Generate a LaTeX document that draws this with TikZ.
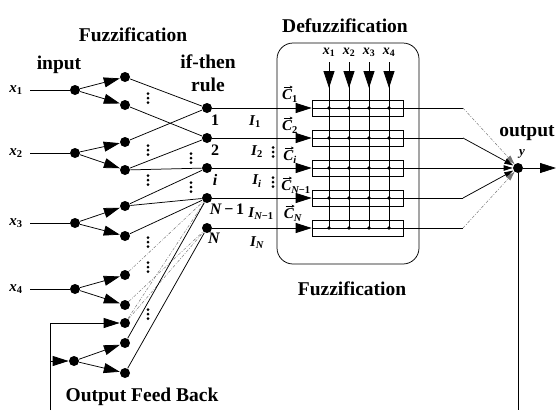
\documentclass[tikz,border=0pt]{standalone}
\usepackage{fontspec}
\setmainfont{Liberation Serif}
\usetikzlibrary{arrows.meta}

\begin{document}
\begin{tikzpicture}[x=1pt,y=-1pt,
  line width=0.75pt,
  neuron/.style={circle,fill=black,inner sep=0pt,minimum size=10pt},
  big/.style={-{Triangle[length=16pt,width=10pt]}},
  bigdown/.style={-{Triangle[length=17pt,width=11pt]}},
  small/.style={-{Triangle[length=9pt,width=5.5pt]}},
  vecarrow/.style={-{Stealth[length=3pt,width=3pt]},line width=0.6pt},
  ghost/.style={line width=0.45pt,black!55,dash pattern=on 3pt off 1.5pt on 0.8pt off 1.5pt},
  title/.style={font=\bfseries\fontsize{19.5}{21}\selectfont,inner sep=0pt},
  lbl/.style={font=\bfseries\itshape\fontsize{15}{16}\selectfont,inner sep=0pt},
  num/.style={font=\bfseries\fontsize{16}{17}\selectfont,inner sep=0pt},
  cell/.style={draw,line width=0.6pt,minimum width=91pt,minimum height=16pt,inner sep=0pt},
  vdts/.pic={\foreach \d in {-4.5,0,4.5} \fill (0,\d) circle (1.5pt);}
]
\useasboundingbox (0,0) rectangle (556,410);

% titles
\node[title] (tfuz) at (133,35) {Fuzzification};
\node[title] (tin) at (59,65) {input};
\node[title] (tif) at (208,62) {if-then};
\node[title] (trule) at (208,85) {rule};
\node[title] (tdef) at (345,26) {Defuzzification};
\node[title] (tfuz2) at (352,289) {Fuzzification};
\node[title] (tout) at (527,133) {output};
\node[title] (tfb) at (142,397) {Output Feed Back};

% input layer
\foreach \k/\yy in {1/90,2/153,3/223,4/289}{
  \node[lbl] (lx\k) at (16,\yy) {x\textsubscript{\upshape\k}};
  \coordinate (s\k) at (30,\yy);
  \node[neuron] (in\k) at (75,\yy) {};
  \draw (s\k) -- (in\k);
}
\node[neuron] (fin) at (74,361) {};

% membership layer
\node[neuron] (m1a) at (125,77) {};
\node[neuron] (m1b) at (125,105) {};
\node[neuron] (m2a) at (125,142) {};
\node[neuron] (m2b) at (125,170) {};
\node[neuron] (m3a) at (125,206) {};
\node[neuron] (m3b) at (125,236) {};
\node[neuron] (m4a) at (125,275) {};
\node[neuron] (m4b) at (125,305) {};
\node[neuron] (fa) at (125,323) {};
\node[neuron] (fb) at (125,343) {};
\node[neuron] (fc) at (125,373) {};

\draw[big] (in1) -- (m1a);
\draw[big] (in1) -- (m1b);
\draw[big] (in2) -- (m2a);
\draw[big] (in2) -- (m2b);
\draw[big] (in3) -- (m3a);
\draw[big] (in3) -- (m3b);
\draw[big] (in4) -- (m4a);
\draw[big] (in4) -- (m4b);
\draw[big] (fin) -- (fb);
\draw[big] (fin) -- (fc);

% rule layer
\node[neuron] (r1) at (207,108) {};
\node[neuron] (r2) at (207,138) {};
\node[neuron] (ri) at (207,168) {};
\node[neuron] (rn1) at (207,198) {};
\node[neuron] (rn) at (207,228) {};
\node[num] (l1) at (215,120) {1};
\node[num] (l2) at (215,150) {2};
\node[num,font=\bfseries\itshape\fontsize{16}{17}\selectfont] (li) at (215,180) {i};
\node[num] (ln1) at (227,209) {\textit{N}\,−\,1};
\node[num,font=\bfseries\itshape\fontsize{16}{17}\selectfont] (ln) at (214,238) {N};

\draw (m1a) -- (r1);
\draw (m1b) -- (r2);
\draw (m2a) -- (r1);
\draw (m2b) -- (r2);
\draw (m2b) -- (ri);
\draw (m3a) -- (ri);
\draw (m3a) -- (rn1);
\draw (m3b) -- (rn1);
\draw[ghost] (m4a) -- (rn1);
\draw[ghost] (m4b) -- (rn);
\draw[ghost] (fa) -- (rn1);
\draw[ghost] (fa) -- (rn);
\draw (fb) -- (rn1);
\draw (fc) -- (rn);

% ellipsis marks
\foreach \p in {(148,98),(148,150),(148,180),(191,158),(191,187),
                (148,242),(148,267),(148,314),(273,152),(273,182)}
  \pic at \p {vdts};

% defuzzification block
\node[draw,rounded corners=16pt,minimum width=142pt,minimum height=221pt,inner sep=0pt]
  (defbox) at (348,153.5) {};

\foreach \r/\yy/\src in {1/108/r1,2/138/r2,3/168/ri,4/198/rn1,5/228/rn}{
  \node[cell] (c\r) at (357.5,\yy) {};
  \coordinate (e\r) at (463,\yy);
  \draw[big] (\src) -- (c\r.west);
}
\draw (c1.west) -- (e1);
\draw (c2.west) -- (e2);
\draw (c4.west) -- (e4);
\draw (c5.west) -- (e5);

% interval labels
\node[lbl] (i1) at (255,122) {I\textsubscript{\upshape 1}};
\node[lbl] (i2) at (257,152) {I\textsubscript{\upshape 2}};
\node[lbl] (ii) at (257,181) {I\textsubscript{i}};
\node[lbl] (in1l) at (261,214) {I\textsubscript{N\upshape −1}};
\node[lbl] (inl) at (257,243) {I\textsubscript{N}};

% consequent labels, each with a vector arrow over its C
\foreach \n/\pos/\sub in {vc1/{(290,96)}/{\upshape 1},vc2/{(290,127)}/{\upshape 2},
    vci/{(290,157)}/{i},vcn1/{(296,187)}/{N\upshape −1},vcn/{(293,215)}/{N}}{
  \node[lbl,anchor=center] (\n) at \pos {C\textsubscript{\sub}};
  \draw[vecarrow] ([xshift=2pt,yshift=2.5pt]\n.north west) -- ++(9,0);
}

% input taps across the cells
\foreach \k/\xx in {1/329,2/349,3/369,4/389}{
  \node[lbl,font=\bfseries\itshape\fontsize{14}{15}\selectfont] (tx\k) at (\xx,52) {x\textsubscript{\upshape\k}};
  \coordinate (top\k) at (\xx,62);
  \coordinate (tip\k) at (\xx,88);
  \coordinate (bot\k) at (\xx,228);
  \draw (top\k) -- (bot\k);
  \draw[bigdown] (top\k) -- (tip\k);
  \foreach \yy in {108,138,168,198,228} \fill (\xx,\yy) circle (1.8pt);
}

% output node
\node[neuron] (y) at (518,168) {};
\node[lbl,font=\bfseries\itshape\fontsize{13}{14}\selectfont] (ly) at (522,154) {y};
\coordinate (yout) at (556,168);
\draw[big] (y) -- (yout);
\draw[ghost,small] (e1) -- (y);
\draw[small] (e2) -- (y);
\draw[small] (c3.west) -- (y);
\draw[small] (e4) -- (y);
\draw[ghost,small] (e5) -- (y);

% feedback path
\coordinate (fbR) at (518,410);
\coordinate (fbL) at (50,410);
\coordinate (fbT) at (50,323);
\coordinate (fbM) at (50,361);
\draw (y) -- (fbR);
\draw (fbL) -- (fbT);
\draw[big] (fbT) -- (fa);
\draw[big] (fbM) -- (fin);
\end{tikzpicture}
\end{document}
